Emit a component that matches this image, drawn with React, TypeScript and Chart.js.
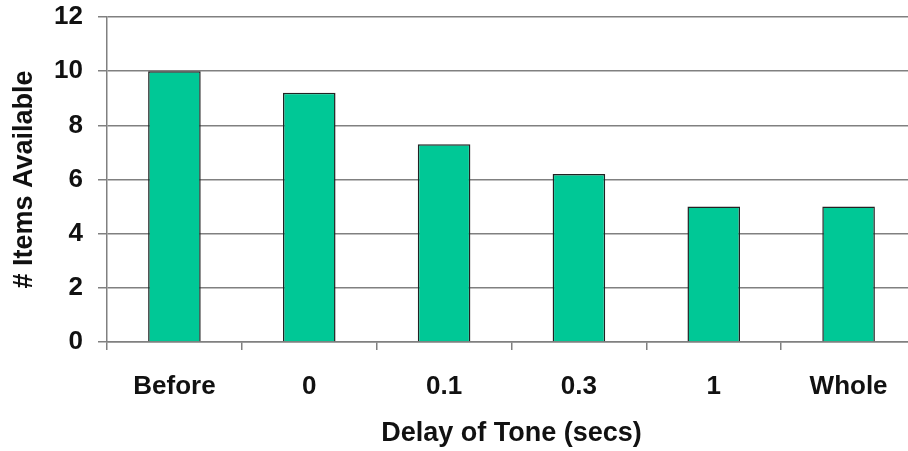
import React, { useEffect, useRef } from "react";
import { Chart, registerables } from "chart.js";

Chart.register(...registerables);

const categories = ["Before", "0", "0.1", "0.3", "1", "Whole"];
const itemsAvailable = [10, 9.2, 7.3, 6.2, 5.0, 5.0];
const yTicks = [0, 2, 4, 6, 8, 10, 12];

const FONT = "'Liberation Sans', Arial, sans-serif";

export default function App() {
  const ref = useRef<HTMLCanvasElement | null>(null);

  useEffect(() => {
    if (!ref.current) return;
    const chart = new Chart(ref.current, {
      type: "bar",
      data: {
        labels: categories,
        datasets: [
          {
            data: itemsAvailable,
            backgroundColor: "#00C896",
            borderColor: "#222222",
            borderWidth: 1.5,
            barPercentage: 0.39,
            categoryPercentage: 1,
          },
        ],
      },
      options: {
        animation: false,
        responsive: false,
        devicePixelRatio: 1,
        layout: { padding: { top: 17, right: 0, left: 0, bottom: 0 } },
        plugins: {
          legend: { display: false },
          tooltip: { enabled: false },
        },
        scales: {
          x: {
            offset: true,
            grid: {
              offset: true,
              drawOnChartArea: false,
              drawTicks: true,
              tickLength: 8,
              color: "#808080",
              lineWidth: 1.5,
            },
            border: { display: true, color: "#808080", width: 1.5 },
            ticks: {
              color: "#111111",
              padding: 21,
              maxRotation: 0,
              font: { family: FONT, size: 26, weight: "bold" },
            },
            title: {
              display: true,
              text: "Delay of Tone (secs)",
              color: "#111111",
              padding: { top: 0, bottom: 1 },
              font: { family: FONT, size: 27, weight: "bold" },
            },
            afterFit: (scale: any) => {
              scale.height = 109;
              scale.paddingLeft = 0;
              scale.paddingRight = 0;
            },
          },
          y: {
            min: 0,
            max: 12,
            afterBuildTicks: (scale: any) => {
              scale.ticks = yTicks.map((v) => ({ value: v }));
            },
            grid: {
              color: "#808080",
              lineWidth: 1.5,
              drawTicks: true,
              tickLength: 9,
            },
            border: { display: true, color: "#808080", width: 1.5 },
            ticks: {
              color: "#111111",
              padding: 15,
              font: { family: FONT, size: 26, weight: "bold" },
            },
            title: {
              display: true,
              text: "# Items Available",
              color: "#111111",
              padding: { top: 8, bottom: 0 },
              font: { family: FONT, size: 27, weight: "bold" },
            },
            afterFit: (scale: any) => {
              scale.width = 107;
              scale.paddingTop = 0;
              scale.paddingBottom = 0;
            },
          },
        },
      },
    });
    return () => chart.destroy();
  }, []);

  return (
    <div
      style={{
        position: "absolute",
        left: 0,
        top: 0,
        width: 908,
        height: 451,
        overflow: "hidden",
        background: "#ffffff",
      }}
    >
      <canvas ref={ref} width={916} height={451} style={{ display: "block" }} />
    </div>
  );
}
